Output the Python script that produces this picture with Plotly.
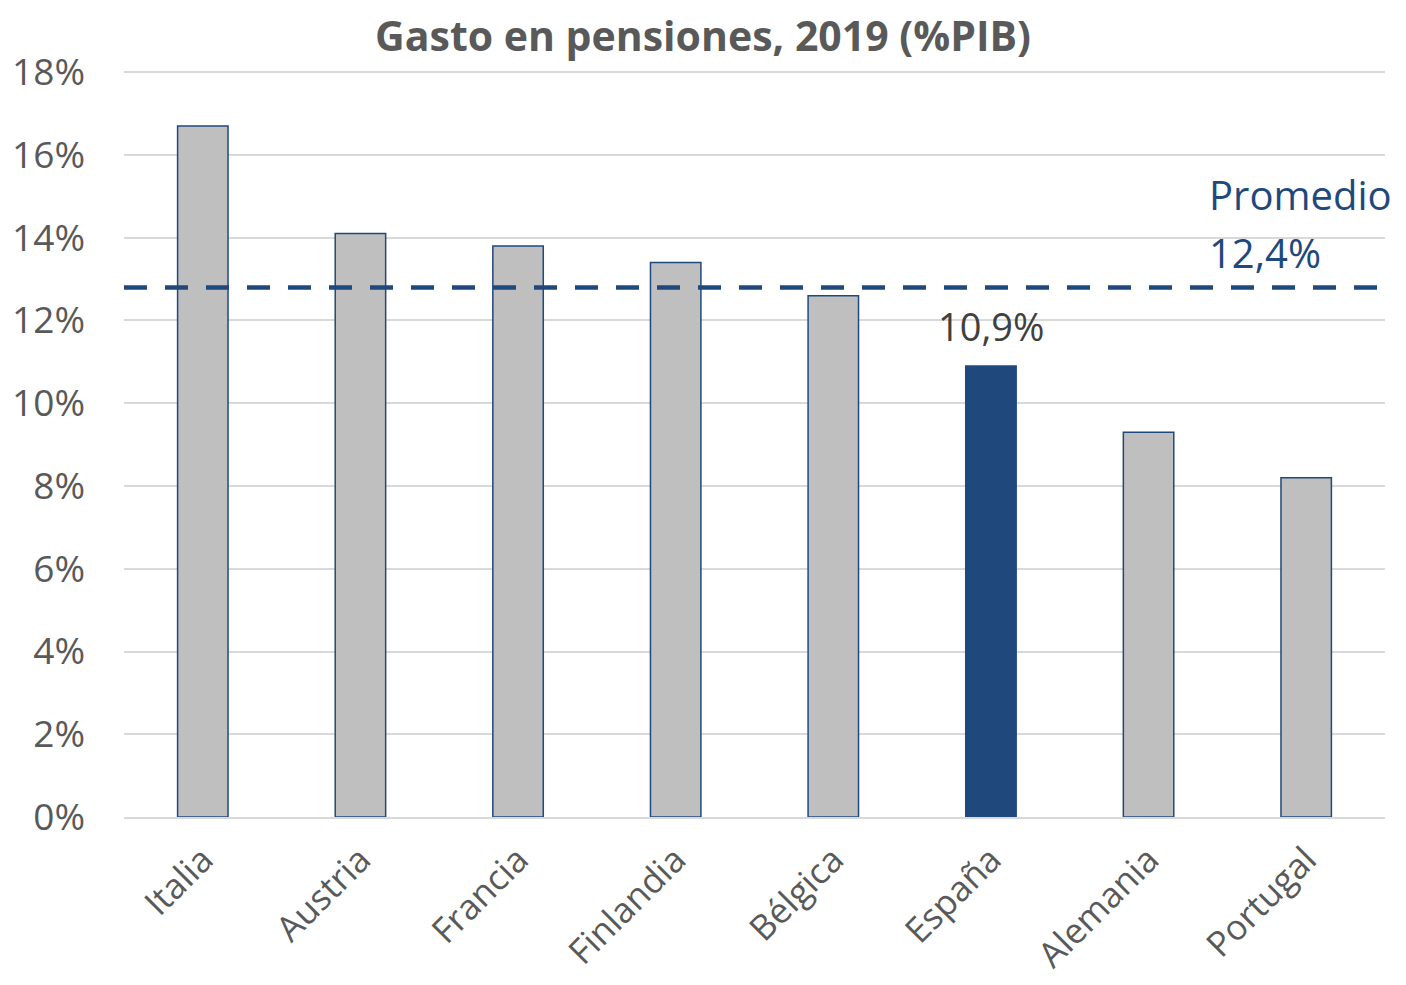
"""Gasto en pensiones 2019 bar chart."""

import plotly.graph_objects as go

COUNTRIES = ["Italia", "Austria", "Francia", "Finlandia", "Bélgica", "España", "Alemania", "Portugal"]
SPENDING = [16.7, 14.1, 13.8, 13.4, 12.6, 10.9, 9.3, 8.2]
HIGHLIGHT = "España"
AVERAGE_LINE = 12.8
AVERAGE_LABEL = "12,4%"
Y_TICKS = [0, 2, 4, 6, 8, 10, 12, 14, 16, 18]

NAVY = "#1F497D"
GREY_BAR = "#BFBFBF"
TEXT_GREY = "#595959"
FONT = "Open Sans, Noto Sans, sans-serif"

# page body adds an 8px offset, so the figure is sized to fit inside the window
WIDTH, HEIGHT = 1390, 969
MARGIN = {"l": 116, "r": 13, "t": 63, "b": 160}
PLOT_H = HEIGHT - MARGIN["t"] - MARGIN["b"]

bar_colors = [NAVY if c == HIGHLIGHT else GREY_BAR for c in COUNTRIES]

fig = go.Figure()
fig.add_trace(
    go.Bar(
        x=COUNTRIES,
        y=SPENDING,
        marker={"color": bar_colors, "line": {"color": NAVY, "width": 1.5}},
        hovertemplate="%{x}: %{y:.1f}%<extra></extra>",
    )
)

# average reference line across the full plot width
fig.add_shape(
    type="line",
    xref="paper",
    yref="y",
    x0=0,
    x1=1,
    y0=AVERAGE_LINE,
    y1=AVERAGE_LINE,
    line={"color": NAVY, "width": 4.5, "dash": "23px,18px"},
    layer="above",
)

hi_idx = COUNTRIES.index(HIGHLIGHT)
fig.add_annotation(
    x=HIGHLIGHT,
    y=SPENDING[hi_idx],
    text=f"{SPENDING[hi_idx]:.1f}%".replace(".", ","),
    showarrow=False,
    yanchor="bottom",
    yshift=12,
    font={"family": FONT, "size": 38, "color": "#404040"},
)
fig.add_annotation(
    xref="paper",
    yref="paper",
    x=0.859,
    y=1 - (194 - 71) / PLOT_H,
    text="Promedio",
    showarrow=False,
    xanchor="left",
    yanchor="middle",
    font={"family": FONT, "size": 40, "color": NAVY},
)
fig.add_annotation(
    xref="paper",
    yref="paper",
    x=0.859,
    y=1 - (252 - 71) / PLOT_H,
    text=AVERAGE_LABEL,
    showarrow=False,
    xanchor="left",
    yanchor="middle",
    font={"family": FONT, "size": 40, "color": NAVY},
)

fig.update_layout(
    width=WIDTH,
    height=HEIGHT,
    margin=MARGIN,
    paper_bgcolor="white",
    plot_bgcolor="white",
    bargap=0.68,
    showlegend=False,
    title={
        "text": "<b>Gasto en pensiones, 2019 (%PIB)</b>",
        "x": 0.5,
        "xanchor": "center",
        "y": 1 - 29 / HEIGHT,
        "yanchor": "middle",
        "font": {"family": FONT, "size": 41, "color": TEXT_GREY},
    },
    font={"family": FONT, "size": 37, "color": TEXT_GREY},
)
fig.update_xaxes(
    tickangle=-45,
    showgrid=False,
    showline=True,
    linecolor="#D9D9D9",
    linewidth=2,
    automargin=False,
    ticklabelstandoff=6,
    tickfont={"family": FONT, "size": 35, "color": TEXT_GREY},
)
fig.update_yaxes(
    range=[0, 18.03],
    tickvals=Y_TICKS,
    ticktext=[f"{v}%" for v in Y_TICKS],
    showgrid=True,
    gridcolor="#D9D9D9",
    gridwidth=1.5,
    zeroline=False,
    automargin=False,
    ticklabelstandoff=38,
    tickfont={"family": FONT, "size": 37, "color": TEXT_GREY},
)

fig.write_html("out.html")
